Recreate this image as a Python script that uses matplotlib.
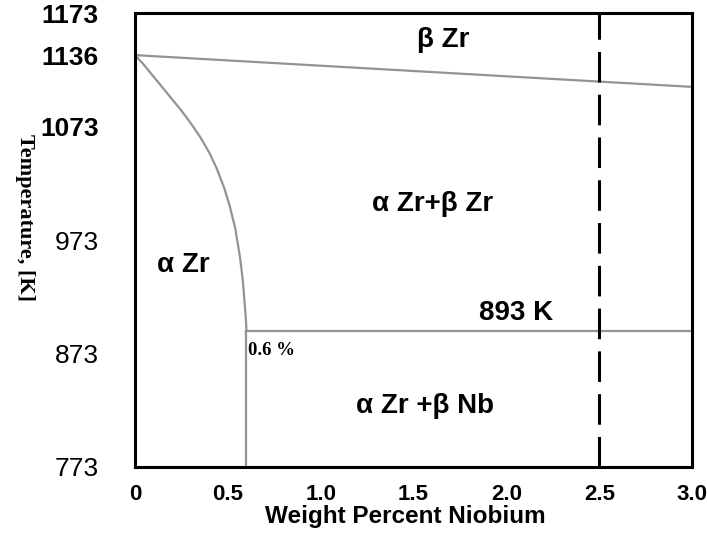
import numpy as np
import matplotlib.pyplot as plt

# 数据：相图边界 (wt% Nb, K)
solvus_x = [0.0, 0.05, 0.10, 0.15, 0.20, 0.25, 0.30, 0.35, 0.40, 0.44,
            0.48, 0.51, 0.54, 0.565, 0.58, 0.59, 0.597, 0.6]
solvus_t = [1136, 1127, 1117, 1107, 1097, 1087, 1076, 1064, 1050, 1036,
            1019, 1003, 983, 958, 938, 918, 903, 893]
beta_x = [0.0, 3.0]
beta_t = [1136, 1108]
eutectoid_x = [0.6, 3.0]
eutectoid_t = [893, 893]
alpha_limit_x = [0.6, 0.6]
alpha_limit_t = [893, 773]
composition = 2.5

x_ticks = [0, 0.5, 1.0, 1.5, 2.0, 2.5, 3.0]
x_tick_labels = ['0', '0.5', '1.0', '1.5', '2.0', '2.5', '3.0']
y_ticks = [773, 873, 973, 1073, 1136, 1173]
y_tick_labels = ['773', '873', '973', '1073', '1136', '1173']

plt.rcParams['font.family'] = ['Liberation Sans', 'DejaVu Sans']

fig = plt.figure(figsize=(7.07, 5.48), dpi=100)
ax = fig.add_axes([0.191, 0.148, 0.788, 0.828])

line_color = '#939393'
ax.plot(solvus_x, solvus_t, color=line_color, lw=1.6)
ax.plot(beta_x, beta_t, color=line_color, lw=1.6)
ax.plot(eutectoid_x, eutectoid_t, color=line_color, lw=1.6)
ax.plot(alpha_limit_x, alpha_limit_t, color=line_color, lw=1.6)
ax.plot([composition, composition], [773, 1173], color='black', lw=2.2,
        dashes=(10, 4))

ax.set_xlim(0, 3.0)
ax.set_ylim(773, 1173)

ax.set_xticks(x_ticks)
ax.set_xticklabels(x_tick_labels, fontsize=16, fontweight='bold')
ax.set_yticks(y_ticks)
ax.set_yticklabels(y_tick_labels, fontsize=19)
for lab in ax.get_yticklabels():
    if lab.get_text() in ('1073', '1136', '1173'):
        lab.set_fontweight('bold')
ax.tick_params(axis='x', length=0, pad=12)
ax.tick_params(axis='y', length=0, pad=26)

for sp in ax.spines.values():
    sp.set_linewidth(2.2)
    sp.set_color('black')

ax.set_xlabel('Weight Percent Niobium', fontsize=17.5, fontweight='bold')
ax.xaxis.set_label_coords(0.485, -0.085)
ax.set_ylabel('Temperature, [K]', fontsize=16, fontweight='bold',
              family=['Liberation Serif'], rotation=-90)
ax.yaxis.set_label_coords(-0.215, 0.55)

txt = dict(fontsize=20, fontweight='bold', ha='center', va='center')
ax.text(1.66, 1149, 'β Zr', **txt)
ax.text(1.60, 1005, 'α Zr+β Zr', **txt)
ax.text(0.26, 951, 'α Zr', **txt)
ax.text(1.56, 827, 'α Zr +β Nb', **txt)
ax.text(2.05, 909, '893 K', bbox=dict(facecolor='white', edgecolor='none',
                                       pad=1), **txt)
ax.text(0.61, 876, '0.6 %', fontsize=13.5, fontweight='bold',
        family=['Liberation Serif'], ha='left', va='center')

fig.savefig('out.png', dpi=100)
